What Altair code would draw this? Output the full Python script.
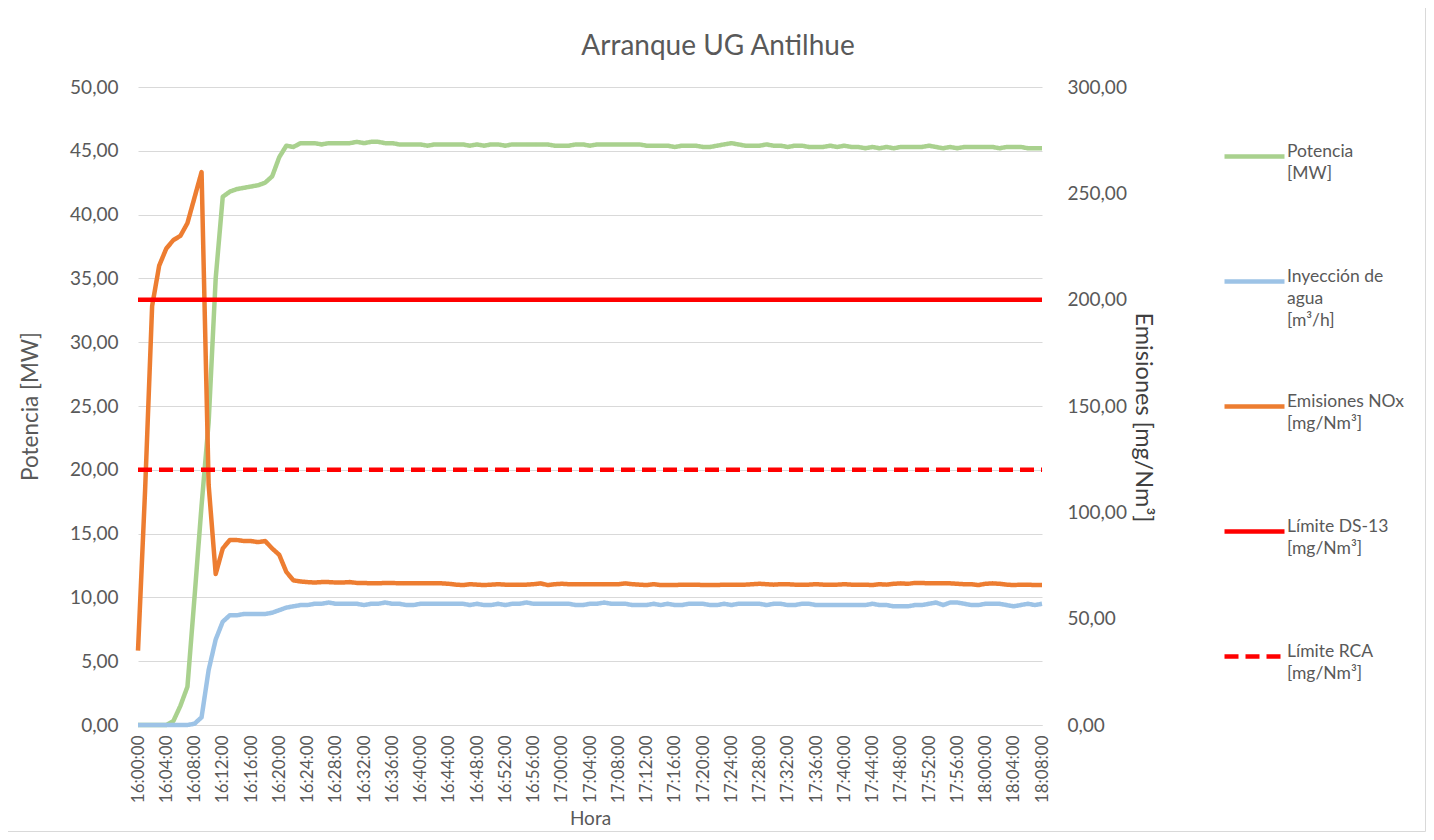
import json
import altair as alt
import pandas as pd

# ---------------- data (one value per minute, 16:00 .. 18:08) ----------------
minutos = list(range(129))

potencia = [
    0, 0, 0, 0, 0, 0.3, 1.5, 3.0, 10.0, 17.2, 23.7, 35.0, 41.4, 41.8, 42.0, 42.1,
    42.2, 42.3, 42.5, 43.0, 44.5, 45.4, 45.3, 45.6,
    45.6, 45.6, 45.5, 45.6, 45.6, 45.6, 45.6, 45.7, 45.6, 45.7, 45.7, 45.6,
    45.6, 45.5, 45.5, 45.5, 45.5, 45.4, 45.5, 45.5, 45.5, 45.5, 45.5, 45.4,
    45.5, 45.4, 45.5, 45.5, 45.4, 45.5, 45.5, 45.5, 45.5, 45.5, 45.5, 45.4,
    45.4, 45.4, 45.5, 45.5, 45.4, 45.5, 45.5, 45.5, 45.5, 45.5, 45.5, 45.5,
    45.4, 45.4, 45.4, 45.4, 45.3, 45.4, 45.4, 45.4, 45.3, 45.3, 45.4, 45.5,
    45.6, 45.5, 45.4, 45.4, 45.4, 45.5, 45.4, 45.4, 45.3, 45.4, 45.4, 45.3,
    45.3, 45.3, 45.4, 45.3, 45.4, 45.3, 45.3, 45.2, 45.3, 45.2, 45.3, 45.2,
    45.3, 45.3, 45.3, 45.3, 45.4, 45.3, 45.2, 45.3, 45.2, 45.3, 45.3, 45.3,
    45.3, 45.3, 45.2, 45.3, 45.3, 45.3, 45.2, 45.2, 45.2,
]

inyeccion = [
    0, 0, 0, 0, 0, 0, 0, 0, 0.1, 0.6, 4.3, 6.7, 8.1, 8.6, 8.6, 8.7,
    8.7, 8.7, 8.7, 8.8, 9.0, 9.2, 9.3, 9.4,
    9.4, 9.5, 9.5, 9.6, 9.5, 9.5, 9.5, 9.5, 9.4, 9.5, 9.5, 9.6,
    9.5, 9.5, 9.4, 9.4, 9.5, 9.5, 9.5, 9.5, 9.5, 9.5, 9.5, 9.4,
    9.5, 9.4, 9.4, 9.5, 9.4, 9.5, 9.5, 9.6, 9.5, 9.5, 9.5, 9.5,
    9.5, 9.5, 9.4, 9.4, 9.5, 9.5, 9.6, 9.5, 9.5, 9.5, 9.4, 9.4,
    9.4, 9.5, 9.4, 9.5, 9.4, 9.4, 9.5, 9.5, 9.5, 9.4, 9.4, 9.5,
    9.4, 9.5, 9.5, 9.5, 9.5, 9.4, 9.5, 9.5, 9.4, 9.4, 9.5, 9.5,
    9.4, 9.4, 9.4, 9.4, 9.4, 9.4, 9.4, 9.4, 9.5, 9.4, 9.4, 9.3,
    9.3, 9.3, 9.4, 9.4, 9.5, 9.6, 9.4, 9.6, 9.6, 9.5, 9.4, 9.4,
    9.5, 9.5, 9.5, 9.4, 9.3, 9.4, 9.5, 9.4, 9.5,
]

nox = [
    35, 110, 197, 216, 224, 228, 230, 236, 248, 260, 113, 71, 83, 87, 87, 86.5,
    86.5, 86, 86.5, 83, 80, 72, 68, 67.5,
    67.2, 67.0, 67.2, 67.2, 67.0, 67.0, 67.2, 66.8, 66.8, 66.6, 66.6, 66.8,
    66.8, 66.6, 66.6, 66.6, 66.6, 66.6, 66.6, 66.6, 66.4, 66.0, 65.8, 66.2,
    66.0, 65.8, 66.0, 66.2, 66.0, 66.0, 66.0, 66.0, 66.2, 66.6, 65.8, 66.2,
    66.4, 66.2, 66.2, 66.2, 66.2, 66.2, 66.2, 66.2, 66.2, 66.6, 66.2, 66.0,
    65.8, 66.2, 65.8, 65.8, 65.8, 66.0, 66.0, 66.0, 65.8, 65.8, 65.8, 66.0,
    66.0, 66.0, 66.0, 66.2, 66.4, 66.2, 66.0, 66.2, 66.2, 66.0, 66.0, 66.0,
    66.2, 66.0, 66.0, 66.0, 66.2, 66.0, 66.0, 66.0, 65.8, 66.2, 66.0, 66.4,
    66.6, 66.4, 66.8, 66.8, 66.6, 66.6, 66.6, 66.6, 66.4, 66.2, 66.2, 65.8,
    66.4, 66.6, 66.4, 66.0, 65.8, 66.0, 66.0, 65.8, 65.8,
]

limite_ds13 = 200
limite_rca = 120

series = ["Potencia", "Inyección de agua", "Emisiones NOx", "Límite DS-13", "Límite RCA"]
colores = ["#A9D18E", "#9DC3E6", "#ED7D31", "#FF0000", "#FF0000"]
guiones = [[1, 0], [1, 0], [1, 0], [1, 0], [14, 7]]
etiquetas_leyenda = {
    "Potencia": ["Potencia", "[MW]"],
    "Inyección de agua": ["Inyección de", "agua", "[m³/h]"],
    "Emisiones NOx": ["Emisiones NOx", "[mg/Nm³]"],
    "Límite DS-13": ["Límite DS-13", "[mg/Nm³]"],
    "Límite RCA": ["Límite RCA", "[mg/Nm³]"],
}

# ---------------- tables ----------------
izq = pd.DataFrame({
    "t": minutos * 2,
    "valor": potencia + inyeccion,
    "serie": ["Potencia"] * len(minutos) + ["Inyección de agua"] * len(minutos),
})
der_nox = pd.DataFrame({"t": minutos, "valor": nox, "serie": ["Emisiones NOx"] * len(minutos)})
der_lim = pd.DataFrame({
    "t": [minutos[0], minutos[-1], minutos[0], minutos[-1]],
    "valor": [limite_ds13, limite_ds13, limite_rca, limite_rca],
    "serie": ["Límite DS-13", "Límite DS-13", "Límite RCA", "Límite RCA"],
})

# legend labels as multi-line text, all padded to the same number of lines
NB = "\u00a0"
def pad(lines):
    out = list(lines)
    while len(out) < 3:
        out.append(NB)
    return out

expr = ""
for k, v in etiquetas_leyenda.items():
    expr += f"datum.label == {json.dumps(k, ensure_ascii=False)} ? {json.dumps(pad(v), ensure_ascii=False)} : "
expr += "datum.label"

TXT = "#595959"
FONT = "Lato"

leyenda = alt.Legend(
    title=None, orient="none", legendX=1084, legendY=37, direction="vertical",
    symbolType="stroke", symbolSize=3600, symbolStrokeWidth=4.5,
    labelFontSize=17.5, labelColor=TXT, labelFont=FONT, labelBaseline="alphabetic",
    labelExpr=expr, rowPadding=45, labelOffset=0, padding=0, labelLimit=300,
)

color = alt.Color("serie:N", scale=alt.Scale(domain=series, range=colores), legend=leyenda)
dash = alt.StrokeDash("serie:N", scale=alt.Scale(domain=series, range=guiones), legend=leyenda)

x_enc = alt.X(
    "t:Q",
    scale=alt.Scale(domain=[0, 128], nice=False, zero=False),
    axis=alt.Axis(
        title="Hora", values=list(range(0, 129, 4)),
        labelExpr="timeFormat(datetime(2024, 0, 1, 16, datum.value, 0), '%H:%M:%S')",
        labelAngle=270, labelFontSize=17, labelColor=TXT, labelPadding=10,
        titleFontSize=19, titleColor=TXT, titleFontWeight="normal", titlePadding=7,
        ticks=False, grid=False, domain=True, domainColor="#D9D9D9", domainWidth=1,
        labelOverlap=False,
    ),
)

fmt = "replace(format(datum.value, '.2f'), '.', ',')"

y_izq = alt.Y(
    "valor:Q",
    scale=alt.Scale(domain=[0, 50], nice=False),
    axis=alt.Axis(
        title="Potencia [MW]", orient="left", values=list(range(0, 51, 5)), labelExpr=fmt,
        labelFontSize=19, labelColor=TXT, labelPadding=20, ticks=False, domain=False,
        grid=True, gridColor="#D9D9D9", gridWidth=1,
        titleFontSize=22.5, titleColor=TXT, titleFontWeight="normal", titlePadding=27,
    ),
)
y_der = alt.Y(
    "valor:Q",
    scale=alt.Scale(domain=[0, 300], nice=False),
    axis=alt.Axis(
        title="Emisiones [mg/Nm³]", orient="right", values=list(range(0, 301, 50)), labelExpr=fmt,
        labelFontSize=19, labelColor=TXT, labelPadding=25, ticks=False, domain=False,
        grid=False, titleFontSize=23.5, titleColor="#404040", titleFontWeight="normal",
        titlePadding=4, titleAngle=90, titleY=330,
    ),
)

linea = dict(strokeWidth=4.5, strokeJoin="round", strokeCap="butt")

capa_izq = alt.Chart(izq).mark_line(**linea).encode(x=x_enc, y=y_izq, color=color, strokeDash=dash, detail="serie:N")
capa_nox = alt.Chart(der_nox).mark_line(**linea).encode(x=x_enc, y=y_der, color=color, strokeDash=dash)
capa_lim = alt.Chart(der_lim).mark_line(**linea).encode(x=x_enc, y=y_der, color=color, strokeDash=dash, detail="serie:N")

marco = alt.Chart(pd.DataFrame({"a": [0]})).mark_rect(
    fill=None, stroke="#D9D9D9", strokeWidth=1
).encode(x=alt.value(-131.5), x2=alt.value(904 + 383.5), y=alt.value(-80.5), y2=alt.value(638 + 106.5))

chart = alt.layer(
    capa_izq, alt.layer(capa_nox, capa_lim), marco
).resolve_scale(y="independent").properties(
    width=904, height=638,
    autosize=alt.AutoSizeParams(type="none"),
    padding={"left": 130, "top": 79, "right": 384, "bottom": 107},
    title=alt.TitleParams("Arranque UG Antilhue", fontSize=28, color=TXT, font=FONT,
                          fontWeight="normal", anchor="middle", frame="group", dx=128,
                          offset=0, dy=55),
).configure(font=FONT, style={"guide-label": {"lineHeight": 22}}).configure_view(stroke=None)

chart.save("out.html", embed_options={"renderer": "svg", "actions": False})
